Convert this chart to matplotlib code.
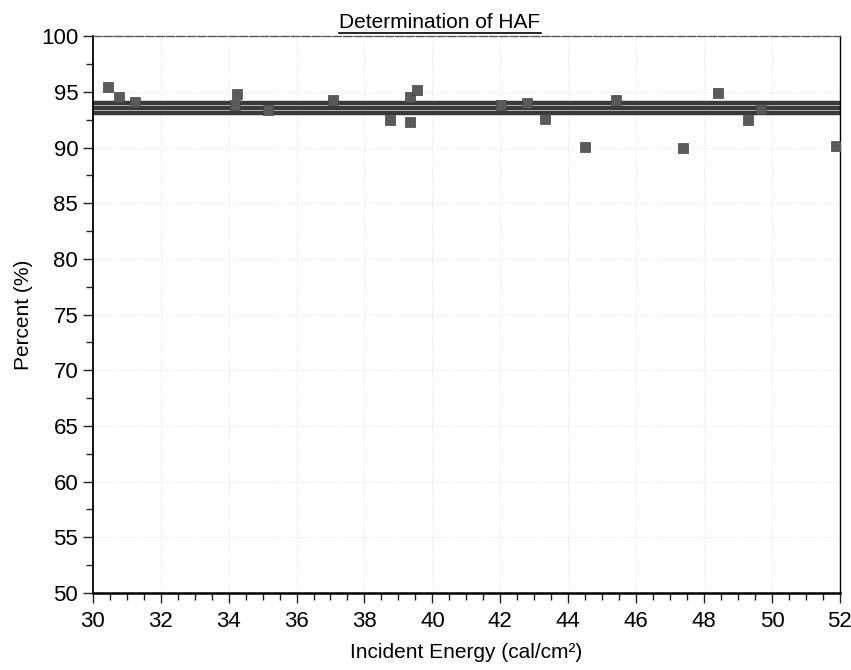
import matplotlib
matplotlib.use("Agg")
import matplotlib.pyplot as plt
from matplotlib.ticker import MultipleLocator
from matplotlib import font_manager

families = [f.name for f in font_manager.fontManager.ttflist]
narrow = "Liberation Sans Narrow" if "Liberation Sans Narrow" in families else "Liberation Sans"
plt.rcParams['font.family'] = [narrow, 'DejaVu Sans']

energy = [30.44, 30.76, 31.24, 34.24, 34.2, 35.15, 37.06, 38.74, 39.35, 39.35, 39.56,
          42.03, 42.8, 43.32, 44.5, 45.41, 47.38, 48.41, 49.29, 49.68, 51.88]
percent = [95.4, 94.5, 94.1, 94.8, 93.8, 93.4, 94.25, 92.46, 92.3, 94.5, 95.15,
           93.8, 94.0, 92.6, 90.05, 94.25, 89.95, 94.9, 92.46, 93.5, 90.1]
ref_lines = [94.0, 93.55, 93.1]

fig = plt.figure(figsize=(8.51, 6.70), dpi=100)
ax = fig.add_axes([0.109, 0.115, 0.878, 0.831])

for v in ref_lines:
    ax.axhline(v, color='#3a3a3a', lw=3.2, zorder=2)

ax.scatter(energy, percent, marker='s', s=60, color='#5a5a5a', edgecolors='#444444',
           linewidths=0.5, zorder=3)

ax.set_xlim(30, 52)
ax.set_ylim(50, 100)
ax.xaxis.set_major_locator(MultipleLocator(2))
ax.xaxis.set_minor_locator(MultipleLocator(0.5))
ax.yaxis.set_major_locator(MultipleLocator(5))
ax.yaxis.set_minor_locator(MultipleLocator(2.5))
ax.tick_params(axis='both', which='major', length=7, width=1, labelsize=16, color='#222222')
ax.tick_params(axis='both', which='minor', length=5, width=1, color='#222222')
ax.tick_params(axis='x', pad=6)

ax.grid(True, which='major', linestyle=':', color='#e2e2e2', lw=0.8, zorder=0)

ax.spines['bottom'].set_linewidth(1.8)
ax.spines['left'].set_linewidth(1.3)
ax.spines['right'].set_linewidth(1.0)
ax.spines['top'].set_linewidth(1.0)
ax.spines['top'].set_linestyle((0, (6, 1.5)))
ax.spines['top'].set_color('#555555')

ax.set_xlabel('Incident Energy (cal/cm²)', fontsize=15, labelpad=8)
ax.set_ylabel('Percent (%)', fontsize=15, labelpad=6)

t = fig.text(0.517, 0.967, 'Determination of HAF', ha='center', va='center', fontsize=15)
fig.canvas.draw()
bb = t.get_window_extent()
inv = fig.transFigure.inverted()
(x0, y0), (x1, y1) = inv.transform([(bb.x0, bb.y0), (bb.x1, bb.y1)])
fig.add_artist(plt.Line2D([x0, x1], [y0 - 0.002, y0 - 0.002], transform=fig.transFigure,
                          color='black', lw=1.2))

fig.savefig('out.png', dpi=100, facecolor='white')
